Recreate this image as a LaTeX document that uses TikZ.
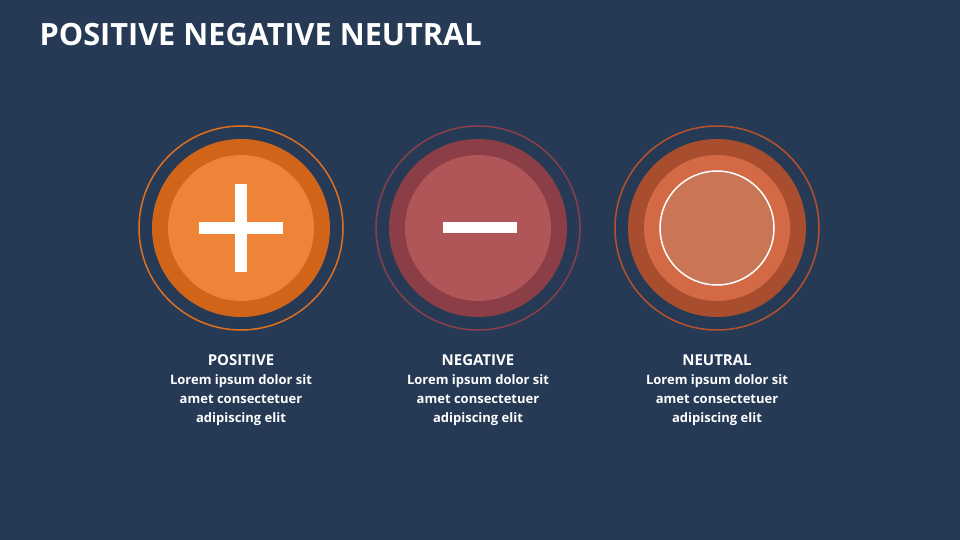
\documentclass[tikz,border=0pt]{standalone}
\usepackage{fontspec}
\setmainfont{Open Sans}
\usetikzlibrary{positioning}
\definecolor{bgblue}{HTML}{263A55}
\definecolor{posring}{HTML}{E0701E}
\definecolor{posmid}{HTML}{D06418}
\definecolor{posin}{HTML}{EE8438}
\definecolor{negring}{HTML}{8A4048}
\definecolor{negmid}{HTML}{8B3E45}
\definecolor{negin}{HTML}{B05558}
\definecolor{neuring}{HTML}{B8502A}
\definecolor{neumid}{HTML}{A84E2E}
\definecolor{neusec}{HTML}{D46A45}
\definecolor{neuin}{HTML}{C97556}
\tikzset{
  ring/.style={draw=#1, line width=1.5pt, fill=none},
  heading/.style={font=\bfseries\fontsize{15}{18}\selectfont, text=white},
  body/.style={font=\bfseries\fontsize{13}{19}\selectfont, text=white, align=center},
  bar/.style={fill=white, draw=none}
}
\begin{document}
\begin{tikzpicture}[x=1pt,y=-1pt]
  \fill[bgblue] (0,0) rectangle (960,540);
  \useasboundingbox (0,0) rectangle (960,540);
  % title
  \node[anchor=west, text=white, font=\bfseries\fontsize{30.7}{34}\selectfont] (title) at (36,35) {POSITIVE NEGATIVE NEUTRAL};

  % positive
  \coordinate (cpos) at (241,228);
  \draw[ring=posring] (cpos) circle (102);
  \fill[posmid] (cpos) circle (89);
  \fill[posin] (cpos) circle (73);
  \fill[bar] (199,222) rectangle (283,234);
  \fill[bar] (235,184) rectangle (247,272);

  % negative
  \coordinate (cneg) at (478,228);
  \draw[ring=negring] (cneg) circle (102);
  \fill[negmid] (cneg) circle (89);
  \fill[negin] (cneg) circle (73);
  \fill[bar] (443,222) rectangle (517,233);

  % neutral
  \coordinate (cneu) at (717,228);
  \draw[ring=neuring] (cneu) circle (102);
  \fill[neumid] (cneu) circle (89);
  \fill[neusec] (cneu) circle (73);
  \filldraw[fill=neuin, draw=white, line width=1.5pt] (cneu) circle (57);

  % labels
  \node[heading] (lpos) at (241,360) {POSITIVE};
  \node[heading] (lneg) at (478,360) {NEGATIVE};
  \node[heading] (lneu) at (717,360) {NEUTRAL};
  \node[body, below=2pt of lpos] (tpos) {Lorem ipsum dolor sit\\amet consectetuer\\adipiscing elit};
  \node[body, below=2pt of lneg] (tneg) {Lorem ipsum dolor sit\\amet consectetuer\\adipiscing elit};
  \node[body, below=2pt of lneu] (tneu) {Lorem ipsum dolor sit\\amet consectetuer\\adipiscing elit};
\end{tikzpicture}
\end{document}
